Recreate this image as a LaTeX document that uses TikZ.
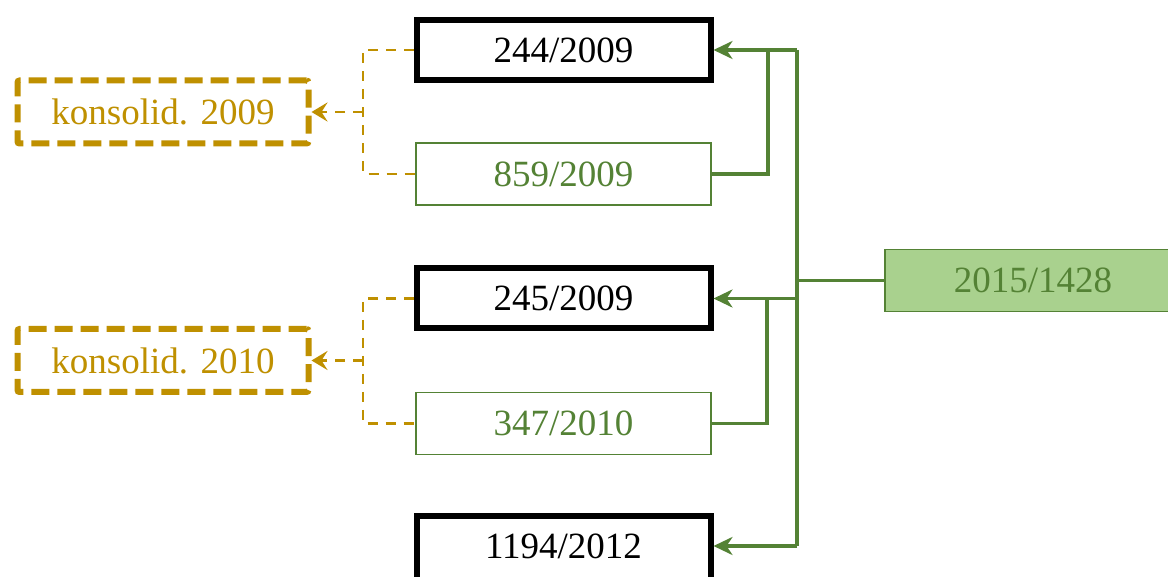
\documentclass[tikz,border=0pt]{standalone}
\usepackage{fontspec}
\setmainfont{Liberation Serif}
\usetikzlibrary{arrows.meta}
\definecolor{gold}{HTML}{BF9000}
\definecolor{dgreen}{HTML}{548235}
\definecolor{lgreen}{HTML}{A9D18E}
\begin{document}
\begin{tikzpicture}[x=1pt,y=-1pt,
  every node/.style={font=\fontsize{37}{44}\selectfont, inner sep=0pt},
  blackbox/.style={draw=black, line width=6pt, minimum width=294pt, minimum height=60pt, text=black},
  greenbox/.style={draw=dgreen, line width=1.8pt, minimum width=295pt, minimum height=62pt, text=dgreen},
  srcbox/.style={draw=dgreen, line width=1.8pt, fill=lgreen, minimum width=296pt, minimum height=62pt, text=dgreen},
  konsbox/.style={draw=gold, line width=6pt, dash pattern=on 18pt off 8pt, rounded corners=2pt, minimum width=291pt, minimum height=63pt, text=gold},
  gline/.style={draw=dgreen, line width=3.3pt},
  garrow/.style={gline, -{Stealth[length=19pt, width=18pt, inset=6pt]}},
  dline/.style={draw=gold, line width=2.8pt, dash pattern=on 10pt off 8pt},
  darrow/.style={dline, -{Stealth[length=16pt, width=19pt, inset=6pt]}}
]
\clip (0,0) rectangle (1168,577);
\useasboundingbox (0,0) rectangle (1168,577);
\fill[white] (0,0) rectangle (1168,577);

\node[blackbox] (a) at (563.5,50) {244/2009};
\node[greenbox] (b) at (563.5,174) {859/2009};
\node[blackbox] (c) at (563.5,298.5) {245/2009};
\node[greenbox] (d) at (563.5,423.5) {347/2010};
\node[blackbox, text height=42pt, text depth=32pt] (e) at (563.5,553) {1194/2012};
\node[srcbox] (s) at (1033,280.5) {2015/1428};
\node[konsbox] (k1) at (163,112) {konsolid. 2009};
\node[konsbox] (k2) at (163,360.5) {konsolid. 2010};

% green trunk
\coordinate (t1) at (797,50);
\coordinate (t2) at (797,298.5);
\coordinate (t3) at (797,546);
\coordinate (ts) at (797,280.5);
\coordinate (j1) at (768,50);
\coordinate (j2) at (767,298.5);
\draw[gline] (t1) -- (t3);
\draw[gline] (s.west) -- (ts);
\draw[garrow] (t1) -- (a.east);
\draw[garrow] (t2) -- (c.east);
\draw[garrow] (t3) -- (e.east |- t3);
\draw[gline] (b.east) -| (j1);
\draw[gline] (d.east) -| (j2);

% gold dashed
\coordinate (g1) at (363,50);
\coordinate (g1m) at (363,112);
\coordinate (g2) at (363,298.5);
\coordinate (g2m) at (363,360.5);
\draw[dline] (a.west) -- (g1) |- (b.west);
\draw[darrow] (g1m) -- (k1.east);
\draw[dline] (c.west) -- (g2) |- (d.west);
\draw[darrow] (g2m) -- (k2.east);
\end{tikzpicture}
\end{document}
